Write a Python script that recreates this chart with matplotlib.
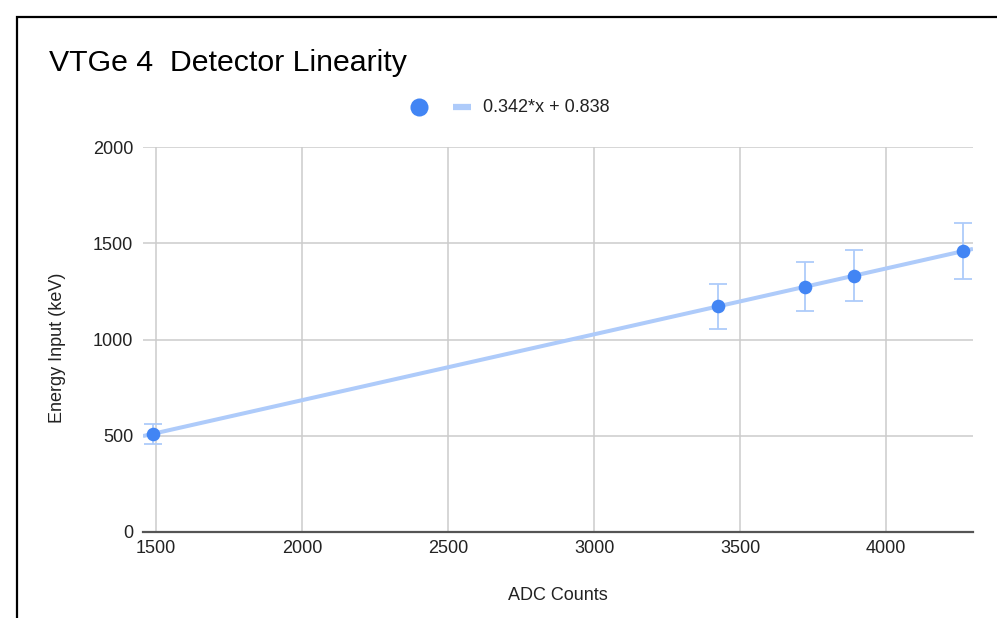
import matplotlib
matplotlib.use("Agg")
import matplotlib.pyplot as plt
from matplotlib.lines import Line2D
from matplotlib.patches import Rectangle
import numpy as np

plt.rcParams["font.family"] = ["Liberation Sans", "DejaVu Sans"]

# 測定点 (ADC カウント, 入力エネルギー keV) と誤差
adc_counts = [1490, 3423, 3722, 3890, 4263]
energy_kev = [510, 1172, 1274, 1331, 1459]
energy_err = [51, 117, 127, 133, 146]

# 線形フィット
SLOPE = 0.342
INTERCEPT = 0.838
FIT_LABEL = "0.342*x + 0.838"

X_TICKS = [1500, 2000, 2500, 3000, 3500, 4000]
Y_TICKS = [0, 500, 1000, 1500, 2000]
XLIM = (1455, 4298)
YLIM = (0, 2000)

POINT_C = "#4285f4"
FIT_C = "#aecbfa"
GRID_C = "#cccccc"
TEXT_C = "#222222"

W, H = 997, 618
fig = plt.figure(figsize=(W / 100, H / 100), dpi=100)
ax = fig.add_axes([143 / W, 1 - 532 / H, (973 - 143) / W, (532 - 147) / H])

# フィット直線（軸の全幅）
xf = np.array(XLIM)
ax.plot(xf, SLOPE * xf + INTERCEPT, color=FIT_C, lw=2.9, solid_capstyle="butt", zorder=2)

ax.errorbar(adc_counts, energy_kev, yerr=energy_err, fmt="none", ecolor=FIT_C,
            elinewidth=1.3, capsize=6.5, capthick=1.3, zorder=3)
ax.plot(adc_counts, energy_kev, "o", color=POINT_C, ms=9.8, mec="none", zorder=4)

ax.set_xlim(*XLIM)
ax.set_ylim(*YLIM)
ax.set_xticks(X_TICKS)
ax.set_yticks(Y_TICKS)
ax.grid(True, color=GRID_C, lw=1.1)
ax.set_axisbelow(True)
for s in ("left", "right", "top"):
    ax.spines[s].set_visible(False)
ax.spines["bottom"].set_color("#555555")
ax.spines["bottom"].set_linewidth(1.6)
ax.tick_params(length=0, labelsize=13, colors=TEXT_C)
ax.tick_params(axis="x", pad=6)
ax.tick_params(axis="y", pad=7)

fig.text(558 / W, 1 - 595 / H, "ADC Counts", ha="center", va="center",
         fontsize=13, color=TEXT_C)
fig.text(58 / W, 1 - 348 / H, "Energy Input (keV)", ha="center", va="center",
         rotation=90, fontsize=13, color=TEXT_C)
fig.text(49 / W, 1 - 63 / H, "VTGe 4  Detector Linearity", ha="left", va="center",
         fontsize=21.75, color="black")

# 凡例
fig.add_artist(Line2D([419 / W], [1 - 107 / H], marker="o", ms=13, color=POINT_C,
                      mec="none", transform=fig.transFigure))
fig.add_artist(Line2D([453 / W, 471 / W], [1 - 107 / H, 1 - 107 / H], lw=4.5,
                      color=FIT_C, solid_capstyle="butt", transform=fig.transFigure))
fig.text(483 / W, 1 - 107 / H, FIT_LABEL, ha="left", va="center",
         fontsize=13, color=TEXT_C)

# 外枠
fig.add_artist(Rectangle((16.5 / W, -0.1), 1.2, (H - 16.5) / H + 0.1, fill=False,
                         lw=1.6, ec="black", transform=fig.transFigure))

fig.savefig("out.png", dpi=100)
